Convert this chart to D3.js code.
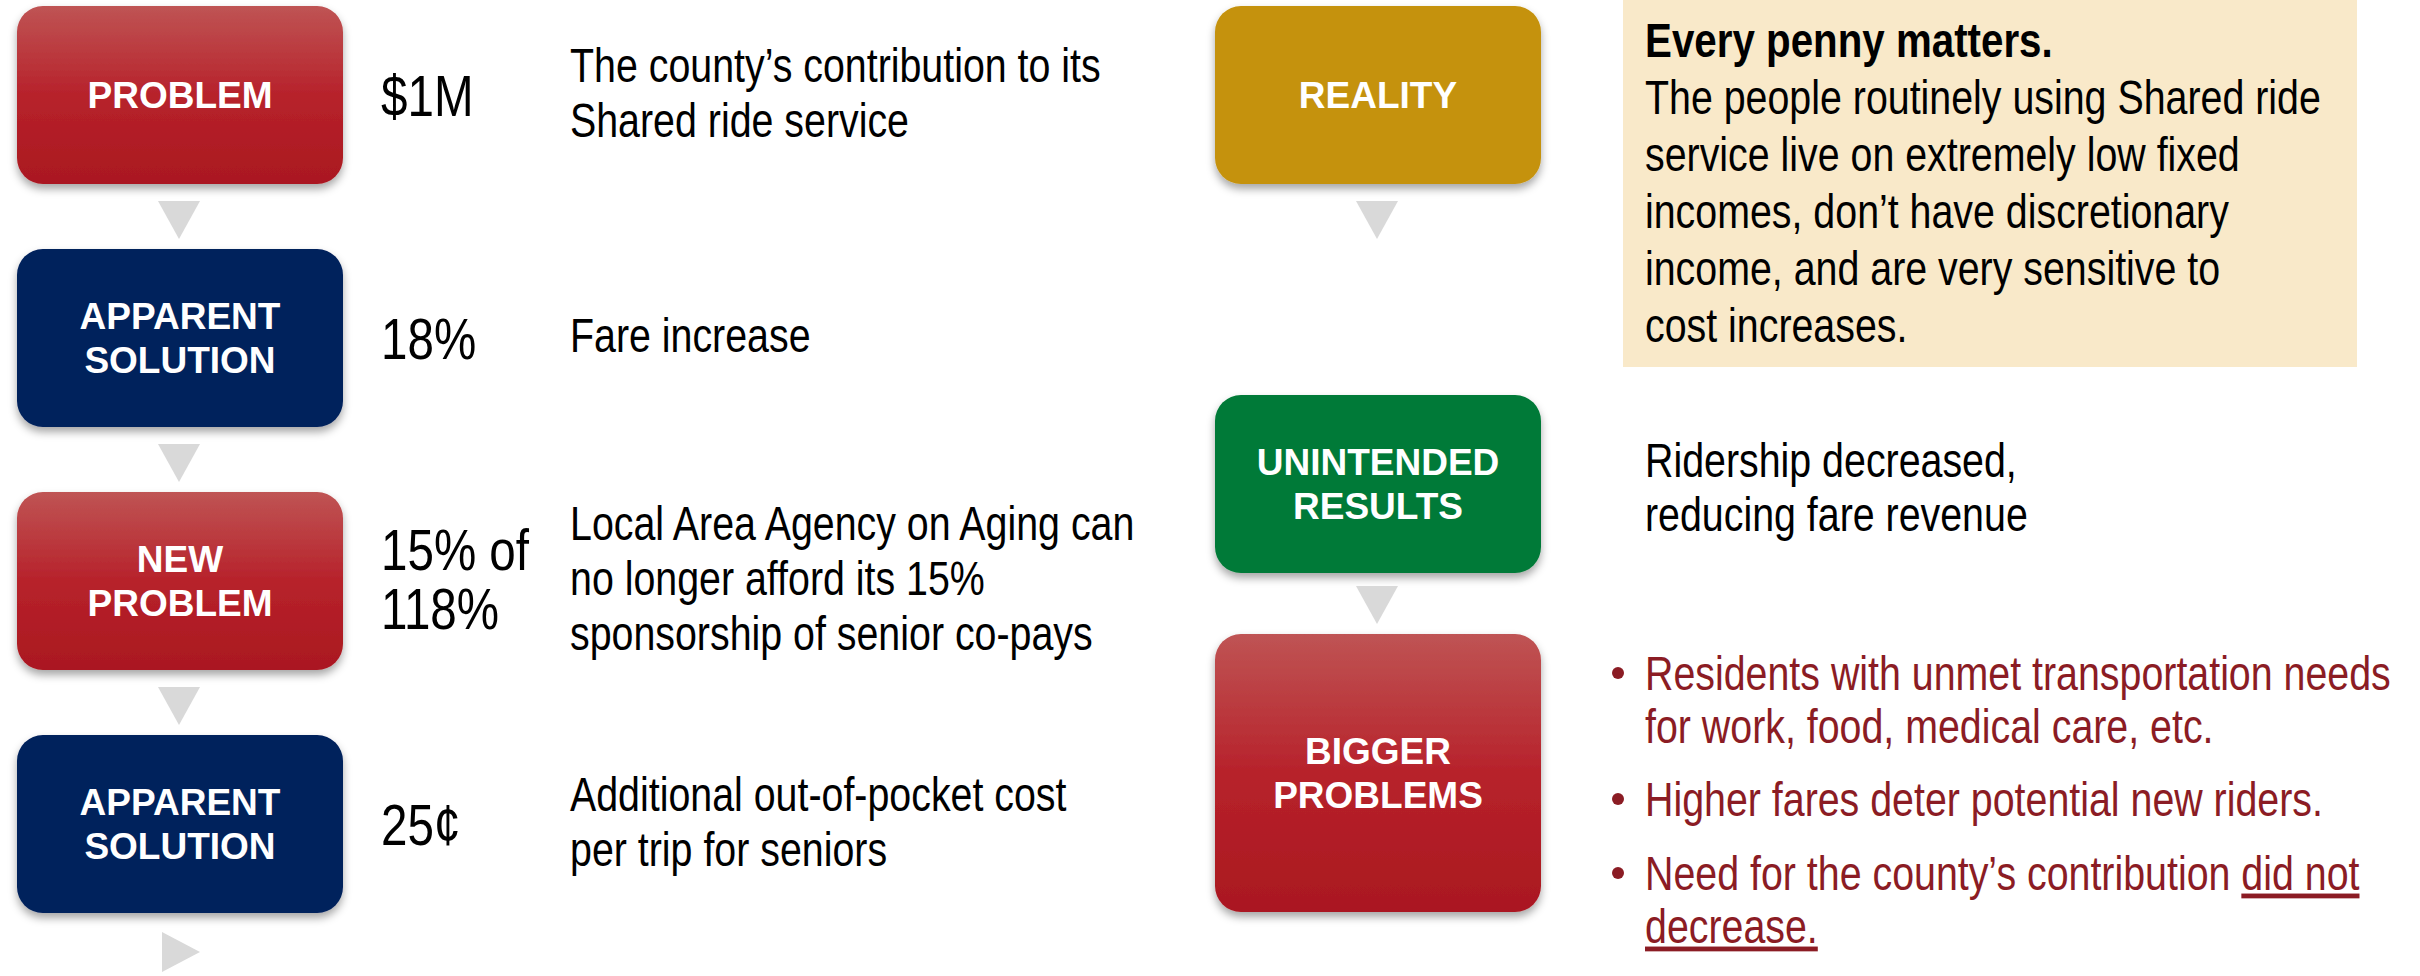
<!DOCTYPE html>
<html>
<head>
<meta charset="utf-8">
<script src="https://cdn.jsdelivr.net/npm/d3@7"></script>
<style>
  html, body { margin: 0; padding: 0; background: #fff; }
  svg { display: block; }
</style>
</head>
<body>
<svg id="vis" width="2420" height="976"></svg>
<script>
// left column: chain of steps
var leftLabels = [["PROBLEM"], ["APPARENT", "SOLUTION"], ["NEW", "PROBLEM"], ["APPARENT", "SOLUTION"]];
var leftKinds = ["red", "navy", "red", "navy"];
var leftValues = [["$1M"], ["18%"], ["15% of", "118%"], ["25\u00A2"]];
var leftNotes = [
  ["The county\u2019s contribution to its", "Shared ride service"],
  ["Fare increase"],
  ["Local Area Agency on Aging can", "no longer afford its 15%", "sponsorship of senior co-pays"],
  ["Additional out-of-pocket cost", "per trip for seniors"]
];

// right column
var rightLabels = [["REALITY"], ["UNINTENDED", "RESULTS"], ["BIGGER", "PROBLEMS"]];
var rightKinds = ["gold", "green", "red"];
var realityTitle = "Every penny matters.";
var realityLines = ["The people routinely using Shared ride", "service live on extremely low fixed",
  "incomes, don\u2019t have discretionary", "income, and are very sensitive to", "cost increases."];
var resultLines = ["Ridership decreased,", "reducing fare revenue"];
var bullets = [
  ["Residents with unmet transportation needs", "for work, food, medical care, etc."],
  ["Higher fares deter potential new riders."],
  ["Need for the county\u2019s contribution |did not", "|decrease."]
];

var fills = { red: "url(#gradRed)", navy: "#03205b", gold: "#c59211", green: "#027a37" };

var svg = d3.select("#vis");
var sans = "'Liberation Sans', Arial, sans-serif";
var squeeze = 0.82;   // fake Arial Narrow

var defs = svg.append("defs");
var grad = defs.append("linearGradient").attr("id", "gradRed")
    .attr("x1", 0).attr("y1", 0).attr("x2", 0).attr("y2", 1);
grad.append("stop").attr("offset", "0%").attr("stop-color", "#bf5454");
grad.append("stop").attr("offset", "50%").attr("stop-color", "#b7222b");
grad.append("stop").attr("offset", "100%").attr("stop-color", "#aa1820");

var shadow = defs.append("filter").attr("id", "shadow")
    .attr("x", "-10%").attr("y", "-10%").attr("width", "120%").attr("height", "130%");
shadow.append("feDropShadow").attr("dx", 0).attr("dy", 5).attr("stdDeviation", 4)
    .attr("flood-color", "#000").attr("flood-opacity", 0.35);

var boxW = 326, boxH = 178, radius = 26;

// scales for the rows
var yLeft = d3.scalePoint().domain(d3.range(leftLabels.length)).range([6, 735]);
var xLeft = 17, xRight = 1215;
var rightTops = [6, 395, 634];
var rightHeights = [178, 178, 278];

function drawBox(g, x, y, h, kind, lines) {
    g.append("rect")
        .attr("x", x).attr("y", y).attr("width", boxW).attr("height", h)
        .attr("rx", radius).attr("ry", radius)
        .attr("fill", fills[kind])
        .attr("filter", "url(#shadow)");
    var lh = 44;
    var y0 = y + h / 2 - (lines.length - 1) * lh / 2 + 13;
    g.append("text")
        .attr("text-anchor", "middle")
        .attr("font-family", sans).attr("font-weight", "bold")
        .attr("font-size", 37).attr("fill", "#fff")
        .selectAll("tspan").data(lines).enter().append("tspan")
        .attr("x", x + boxW / 2)
        .attr("y", function(d, i) { return y0 + i * lh; })
        .text(function(d) { return d; });
}

function drawArrowDown(g, cx, top) {
    g.append("path")
        .attr("d", d3.line()([[cx - 21, top], [cx + 21, top], [cx, top + 38]]) + "Z")
        .attr("fill", "#d9d9d9");
}

// narrow text block: group squeezed horizontally
function narrowGroup(g, x, sx) {
    return g.append("g").attr("transform", "translate(" + x + ",0) scale(" + (sx || squeeze) + ",1)");
}

function drawLines(g, x, yCenter, lines, lh, size, color) {
    var y0 = yCenter - (lines.length - 1) * lh / 2 + size * 0.36;
    narrowGroup(g, x).append("text")
        .attr("font-family", sans).attr("font-size", size).attr("fill", color || "#000")
        .selectAll("tspan").data(lines).enter().append("tspan")
        .attr("x", 0)
        .attr("y", function(d, i) { return y0 + i * lh; })
        .text(function(d) { return d; });
}

var gl = svg.append("g");
leftLabels.forEach(function(lab, i) {
    var top = yLeft(i);
    drawBox(gl, xLeft, top, boxH, leftKinds[i], lab);
    var cy = top + boxH / 2;
    drawLines(gl, 381, cy + (leftValues[i].length > 1 ? -2 : 0), leftValues[i], 59, 58);
    drawLines(gl, 570, cy - 3, leftNotes[i], 55, 48);
    if (i < leftLabels.length - 1) drawArrowDown(gl, xLeft + boxW / 2 - 1, top + boxH + 17);
});
// final arrow pointing right
var lastBottom = yLeft(leftLabels.length - 1) + boxH;
gl.append("path")
    .attr("d", d3.line()([[162, lastBottom + 19], [162, lastBottom + 59], [200, lastBottom + 39]]) + "Z")
    .attr("fill", "#d9d9d9");

var gr = svg.append("g");
rightLabels.forEach(function(lab, i) {
    drawBox(gr, xRight, rightTops[i], rightHeights[i], rightKinds[i], lab);
    if (i < rightLabels.length - 1) {
        var b = rightTops[i] + rightHeights[i];
        var at = i === 0 ? b + 17 : b + 13;
        drawArrowDown(gr, xRight + boxW / 2 - 1, at);
    }
});

// beige note
gr.append("rect").attr("x", 1623).attr("y", 0).attr("width", 734).attr("height", 367).attr("fill", "#f9e9c9");
var noteLh = 57;
narrowGroup(gr, 1645, 0.84).append("text")
    .attr("x", 0).attr("y", 40 + 48 * 0.36)
    .attr("font-family", sans).attr("font-weight", "bold").attr("font-size", 48).attr("fill", "#000")
    .text(realityTitle);
drawLines(gr, 1645, 40 + noteLh + (realityLines.length - 1) * noteLh / 2, realityLines, noteLh, 48);

drawLines(gr, 1645, 487, resultLines, 54, 48);

// bullets
var bulletColor = "#8b1c24";
var bulletTops = [673, 799, 873];
bullets.forEach(function(lines, i) {
    var yb = bulletTops[i] + 48 * 0.36;
    gr.append("circle").attr("cx", 1618).attr("cy", bulletTops[i]).attr("r", 6).attr("fill", bulletColor);
    var t = narrowGroup(gr, 1645).append("text")
        .attr("font-family", sans).attr("font-size", 48).attr("fill", bulletColor);
    lines.forEach(function(line, j) {
        var parts = line.split("|").filter(function(p) { return p.length; });
        var underlineFrom = line.indexOf("|") === 0 ? 0 : 1;
        parts.forEach(function(p, k) {
            var ts = t.append("tspan").text(p);
            if (k === 0) ts.attr("x", 0).attr("y", yb + j * 53);
            if (line.indexOf("|") >= 0 && k >= underlineFrom) ts.attr("text-decoration", "underline");
        });
    });
});
</script>
</body>
</html>
